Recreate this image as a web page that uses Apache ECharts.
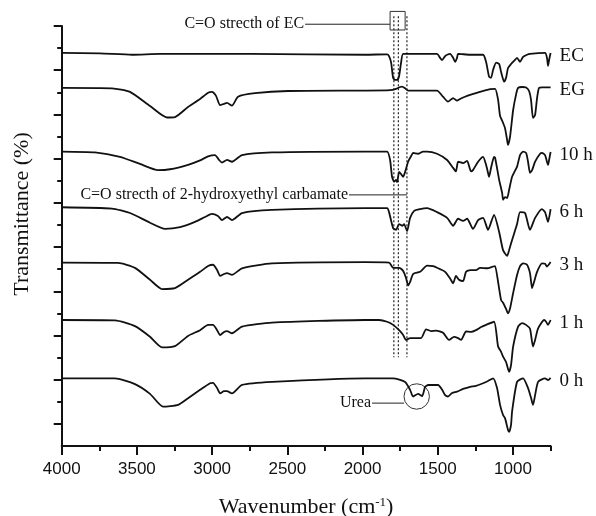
<!DOCTYPE html>
<html><head><meta charset="utf-8">
<script src="https://cdn.jsdelivr.net/npm/echarts@6/dist/echarts.min.js"></script>
<style>html,body{margin:0;padding:0;background:#fff}#c{width:596px;height:516px}</style>
</head><body><div id="c"></div>
<script>
// ---- data (wavenumber cm^-1, transmittance in stacked arbitrary units) ----
const seriesNames = ['EC', 'EG', '10 h', '6 h', '3 h', '1 h', '0 h'];
const EC = [[4000,88.9],[3747,88.8],[3533,88.5],[3346,88.7],[2748,88.7],[1983,88.5],[1837,88.6],[1824,88.2],[1810,86.7],[1797,83.3],[1784,82.8],[1770,82.8],[1757,83.7],[1744,86.7],[1730,88.7],[1618,88.7],[1505,88.7],[1485,87.8],[1471,87.3],[1451,88.2],[1438,88.5],[1418,88.7],[1398,87.8],[1385,86.9],[1372,87.8],[1365,88.7],[1285,88.5],[1199,88.5],[1179,86.9],[1159,83.5],[1146,83.3],[1132,85.1],[1112,86.7],[1092,86.4],[1079,84.6],[1059,82.4],[1046,83.3],[1033,85.5],[1013,86.4],[993,87.1],[973,87.8],[953,86.9],[933,88.0],[907,88.5],[887,88.7],[787,88.9],[774,87.8],[767,86.0],[760,87.3],[750,88.9]];
const EG = [[4000,81.0],[3666,80.9],[3546,80.1],[3413,76.9],[3300,74.3],[3247,74.4],[3160,76.7],[3080,78.5],[3027,79.9],[3001,80.1],[2974,79.2],[2947,77.1],[2921,77.4],[2901,77.6],[2868,77.0],[2828,79.0],[2715,79.8],[2495,80.3],[1983,80.4],[1817,80.5],[1777,80.8],[1750,81.2],[1737,81.3],[1717,80.9],[1697,80.4],[1505,80.4],[1465,79.0],[1432,77.9],[1398,78.7],[1372,78.1],[1352,78.5],[1319,79.0],[1285,79.4],[1219,80.1],[1152,80.7],[1119,80.8],[1099,78.3],[1086,74.7],[1066,73.1],[1053,71.9],[1039,69.2],[1033,68.1],[1019,70.1],[999,76.0],[979,79.6],[966,81.0],[940,81.2],[913,81.1],[893,80.3],[880,78.3],[867,74.2],[853,74.9],[840,78.7],[827,81.0],[807,81.1],[750,81.1]];
const H10 = [[4000,66.6],[3779,66.4],[3613,65.4],[3480,63.8],[3360,62.4],[3280,62.6],[3160,63.6],[3080,64.6],[3027,65.5],[2981,65.8],[2954,64.7],[2934,64.1],[2901,64.7],[2868,64.3],[2801,65.8],[2602,66.4],[1983,66.6],[1837,66.6],[1817,64.7],[1804,60.9],[1790,59.8],[1777,60.2],[1770,59.7],[1757,62.0],[1744,61.5],[1730,60.9],[1717,62.0],[1697,64.3],[1677,65.6],[1664,66.3],[1631,66.1],[1598,66.6],[1571,66.6],[1505,66.1],[1438,64.7],[1398,62.9],[1379,62.1],[1365,64.3],[1332,64.0],[1305,64.5],[1279,62.1],[1266,62.4],[1232,64.3],[1199,65.4],[1179,63.6],[1166,61.8],[1159,60.9],[1146,62.9],[1126,65.4],[1119,65.2],[1092,60.2],[1072,57.2],[1066,55.7],[1053,56.3],[1039,56.1],[1026,57.9],[1006,60.9],[973,63.2],[953,65.8],[933,66.6],[913,66.3],[900,64.3],[887,61.8],[873,62.4],[853,64.3],[820,66.1],[807,66.3],[787,65.8],[767,63.6],[760,64.7],[750,66.5]];
const H6 = [[4000,54.0],[3666,53.7],[3546,52.7],[3413,50.5],[3313,49.1],[3213,49.5],[3114,50.7],[3047,51.8],[3001,52.5],[2961,52.0],[2934,51.1],[2901,51.8],[2868,51.1],[2801,52.7],[2602,53.4],[1983,53.8],[1837,53.8],[1824,52.9],[1797,49.3],[1777,48.9],[1757,50.2],[1737,49.8],[1724,50.2],[1704,48.6],[1684,51.6],[1657,53.2],[1618,53.6],[1571,53.8],[1505,52.9],[1438,51.6],[1398,49.8],[1365,51.4],[1332,50.9],[1305,51.4],[1266,49.1],[1232,51.1],[1199,51.6],[1166,48.9],[1126,52.3],[1092,48.4],[1066,44.3],[1039,43.0],[1026,44.3],[1006,46.6],[973,50.2],[953,52.9],[920,52.7],[887,48.9],[853,51.6],[807,53.6],[787,52.9],[767,50.7],[750,53.6]];
const H3 = [[4000,41.5],[3626,41.4],[3513,40.3],[3413,37.6],[3333,35.5],[3247,35.7],[3160,37.6],[3080,39.4],[3027,40.7],[2994,41.0],[2967,39.8],[2947,38.5],[2921,38.9],[2901,39.1],[2868,38.7],[2801,40.2],[2602,41.3],[1983,41.6],[1824,41.5],[1797,40.3],[1757,40.3],[1730,39.6],[1711,38.0],[1697,36.3],[1684,37.1],[1664,38.9],[1618,39.4],[1571,40.8],[1531,40.7],[1485,40.0],[1451,39.4],[1418,37.9],[1398,36.8],[1379,38.5],[1359,37.6],[1332,37.3],[1312,39.4],[1285,39.8],[1246,39.8],[1219,40.3],[1172,40.2],[1132,40.6],[1119,40.7],[1099,37.1],[1079,33.0],[1066,32.4],[1046,31.0],[1033,30.0],[1019,31.2],[999,34.6],[973,38.7],[953,40.7],[933,41.3],[907,41.0],[887,39.1],[873,35.7],[860,37.1],[840,39.4],[807,41.3],[787,41.2],[774,40.6],[750,41.6]];
const H1 = [[4000,28.5],[3646,28.4],[3513,27.1],[3413,24.7],[3333,22.3],[3247,22.6],[3160,24.9],[3080,26.2],[3027,27.4],[2994,27.4],[2967,26.2],[2947,25.1],[2921,25.8],[2901,26.0],[2868,25.5],[2801,27.0],[2602,27.9],[1983,28.5],[1890,28.5],[1837,28.1],[1797,27.4],[1757,26.2],[1730,25.1],[1711,24.0],[1684,24.4],[1664,24.4],[1611,24.4],[1578,26.4],[1545,26.0],[1511,26.1],[1465,25.6],[1425,24.0],[1392,24.7],[1365,24.4],[1345,24.0],[1312,25.9],[1279,25.8],[1246,26.2],[1212,26.9],[1179,27.4],[1126,28.1],[1099,22.5],[1079,21.3],[1066,20.2],[1046,19.0],[1026,16.8],[1013,18.3],[999,22.5],[966,27.0],[940,27.8],[913,27.4],[887,26.5],[867,22.5],[853,24.0],[833,26.6],[793,28.5],[780,28.1],[767,27.4],[750,28.5]];
const H0 = [[4000,15.3],[3646,15.3],[3513,14.0],[3413,11.8],[3326,8.9],[3226,9.3],[3160,10.8],[3080,12.7],[3014,14.2],[2994,14.3],[2967,13.1],[2947,11.9],[2921,12.4],[2901,12.4],[2868,11.9],[2801,13.8],[2602,14.5],[1983,15.3],[1797,15.3],[1717,14.5],[1684,12.7],[1664,11.2],[1631,11.8],[1604,11.3],[1584,13.4],[1564,13.8],[1498,13.8],[1471,12.7],[1451,11.5],[1432,11.2],[1405,12.0],[1372,12.3],[1332,12.9],[1285,13.4],[1246,13.6],[1199,14.2],[1166,14.7],[1132,15.3],[1106,13.1],[1086,9.3],[1066,7.0],[1053,6.3],[1033,3.6],[1026,3.2],[1013,4.8],[1006,7.8],[973,14.5],[933,15.3],[900,13.1],[880,10.9],[867,9.3],[853,11.5],[833,14.5],[787,15.3],[767,14.9],[750,15.4]];
const seriesData = [EC, EG, H10, H6, H3, H1, H0];

// axis ticks
const xLabelTicks = [1000, 1500, 2000, 2500, 3000, 3500, 4000];
const xMinorTicks = [750, 1250, 1750, 2250, 2750, 3250, 3750];
const yMajorTicks = [5, 15, 25, 35, 45, 55, 65, 75, 85, 95];
const yMinorTicks = [10, 20, 30, 40, 50, 60, 70, 80, 90];

// annotation anchors (data units)
const coBandLines = [1792, 1762, 1705];
const coBandRange = [97.2, 20.1];
const ecBox = [1817, 1717, 98.3, 94.1];
const ecNote = { text: 'C=O strecth of EC', from: 2382, to: 1817, y: 95.4 };
const carbNote = { text: 'C=O strecth of 2-hydroxyethyl carbamate', from: 2090, to: 1705, y: 56.8 };
const ureaNote = { text: 'Urea', from: 1937, to: 1724, y: 9.7, cw: 1640, cv: 11.2 };

const SERIF = '"Liberation Serif","Times New Roman",serif';
const SANS = '"Liberation Sans",Arial,sans-serif';
const INK = '#111';

const chart = echarts.init(document.getElementById('c'), null, { renderer: 'canvas' });
const axisLine = { show: true, onZero: false, lineStyle: { color: INK, width: 2 } };
const option = {
  animation: false,
  backgroundColor: '#fff',
  grid: { left: 61.7, right: 45.4, top: 26, bottom: 70, containLabel: false, outerBoundsMode: 'none' },
  xAxis: [{
    type: 'value', inverse: true, min: 750, max: 4000,
    axisLine: axisLine,
    axisTick: { show: true, customValues: xLabelTicks, length: 9, lineStyle: { color: INK, width: 2 } },
    axisLabel: { show: true, customValues: xLabelTicks, margin: 15, fontSize: 17, fontFamily: SANS, color: INK,
      formatter: v => String(v) },
    splitLine: { show: false },
    name: 'Wavenumber (cm{sup|-1})', nameLocation: 'middle', nameGap: 50,
    nameTextStyle: { fontSize: 22, fontFamily: SERIF, color: INK,
      rich: { sup: { fontSize: 13, fontFamily: SERIF, color: INK, verticalAlign: 'top' } } }
  }, {
    type: 'value', inverse: true, min: 750, max: 4000, position: 'bottom',
    axisLine: { show: false },
    axisTick: { show: true, customValues: xMinorTicks, length: 5, lineStyle: { color: INK, width: 2 } },
    axisLabel: { show: false }, splitLine: { show: false }
  }],
  yAxis: [{
    type: 'value', min: 0, max: 95,
    axisLine: axisLine,
    axisTick: { show: true, customValues: yMajorTicks, length: 8, lineStyle: { color: INK, width: 2 } },
    axisLabel: { show: false }, splitLine: { show: false },
    name: 'Transmittance (%)', nameLocation: 'middle', nameGap: 28,
    nameTextStyle: { fontSize: 22, fontFamily: SERIF, color: INK, padding: [0, 0, 0, 44] }
  }, {
    type: 'value', min: 0, max: 95, position: 'left', offset: 0,
    axisLine: { show: false },
    axisTick: { show: true, customValues: yMinorTicks, length: 4.5, lineStyle: { color: INK, width: 2 } },
    axisLabel: { show: false }, splitLine: { show: false }
  }],
  series: seriesNames.map((name, i) => ({
    name: name, type: 'line', data: seriesData[i], xAxisIndex: 0, yAxisIndex: 0,
    showSymbol: false, smooth: 0.2, silent: true,
    lineStyle: { color: INK, width: 1.8 }
  }))
};
chart.setOption(option);

function P(w, v) { return chart.convertToPixel({ xAxisIndex: 0, yAxisIndex: 0 }, [w, v]); }
const thin = { stroke: '#222', lineWidth: 1 };
const g = [];
// series name labels at the right end of each curve
seriesNames.forEach((name, i) => {
  const last = seriesData[i][seriesData[i].length - 1];
  const p = P(last[0], last[1]);
  g.push({ type: 'text', x: p[0] + 9, y: p[1] + 3,
    style: { text: name, align: 'left', verticalAlign: 'middle', fontSize: 19, fontFamily: SERIF, fill: INK } });
});
coBandLines.forEach(w => {
  const a = P(w, coBandRange[0]), b = P(w, coBandRange[1]);
  g.push({ type: 'line', shape: { x1: a[0], y1: a[1], x2: b[0], y2: b[1] },
    style: { stroke: '#222', lineWidth: 1.2, lineDash: [2, 2] } });
});
{
  const a = P(ecBox[0], ecBox[2]), b = P(ecBox[1], ecBox[3]);
  g.push({ type: 'rect', shape: { x: a[0], y: a[1], width: b[0] - a[0], height: b[1] - a[1] },
    style: { fill: 'none', stroke: '#333', lineWidth: 1 } });
}
[ecNote, carbNote, ureaNote].forEach(n => {
  const a = P(n.from, n.y), b = P(n.to, n.y);
  g.push({ type: 'line', shape: { x1: a[0], y1: a[1], x2: b[0], y2: b[1] }, style: thin });
  g.push({ type: 'text', x: a[0] - 1, y: a[1] - 0.5,
    style: { text: n.text, align: 'right', verticalAlign: 'middle', fontSize: 16, fontFamily: SERIF, fill: INK } });
});
{
  const c = P(ureaNote.cw, ureaNote.cv);
  g.push({ type: 'circle', shape: { cx: c[0], cy: c[1], r: 12.7 }, style: { fill: 'none', stroke: '#333', lineWidth: 1 } });
}
chart.setOption({ graphic: { elements: g } });
</script>
</body></html>
